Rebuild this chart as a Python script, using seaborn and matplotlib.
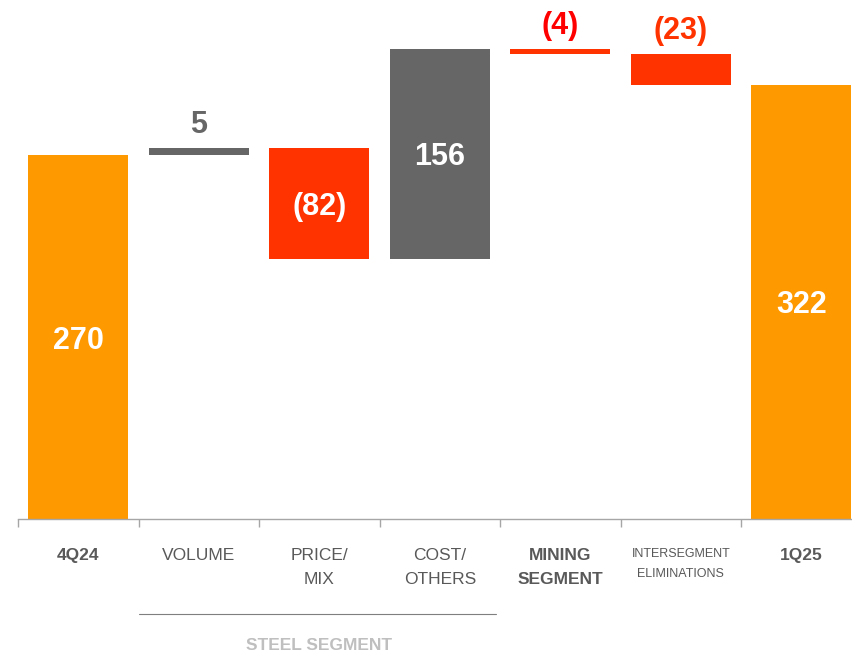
import matplotlib
matplotlib.use("Agg")
import matplotlib.pyplot as plt
import matplotlib.transforms as mtransforms
import seaborn as sns
import pandas as pd

# valores del puente 4Q24 -> 1Q25
categorias = ["4Q24", "VOLUME", "PRICE/\nMIX", "COST/\nOTHERS",
              "MINING\nSEGMENT", "INTERSEGMENT\nELIMINATIONS", "1Q25"]
valores = [270, 5, -82, 156, -4, -23, 322]
es_total = [True, False, False, False, False, False, True]
etiquetas = ["270", "5", "(82)", "156", "(4)", "(23)", "322"]
grupo_texto = "STEEL SEGMENT"

NARANJA = "#FF9900"
ROJO = "#FF3300"
GRIS = "#666666"

# bases y alturas de la cascada
bases, alturas, colores = [], [], []
acum = 0
for v, tot in zip(valores, es_total):
    if tot:
        bases.append(0)
        alturas.append(v)
        colores.append(NARANJA)
        acum = v
    else:
        bases.append(acum + min(0, v))
        alturas.append(abs(v))
        colores.append(GRIS if v > 0 else ROJO)
        acum += v

df = pd.DataFrame({"cat": categorias, "altura": alturas, "base": bases})

sns.set_style("white")
plt.rcParams["font.family"] = ["Liberation Sans", "DejaVu Sans"]

fig = plt.figure(figsize=(8.52, 6.56), dpi=100)
ax = fig.add_axes([18 / 852, 137 / 656, 834 / 852, 519 / 656])

sns.barplot(data=df, x="cat", y="altura", order=categorias, bottom=df["base"].values,
            width=0.83, color=NARANJA, linewidth=0, ax=ax)
for p, c in zip(ax.patches, colores):
    p.set_facecolor(c)

ax.set_xlabel("")
ax.set_ylabel("")
ax.set_yticks([])
for s in ["top", "right", "left"]:
    ax.spines[s].set_visible(False)
ax.spines["bottom"].set_color("#A6A6A6")
ax.spines["bottom"].set_linewidth(1)

# etiquetas de valor
for i, (lab, v) in enumerate(zip(etiquetas, valores)):
    top = bases[i] + alturas[i]
    if alturas[i] > 40:
        ax.text(i, bases[i] + alturas[i] / 2, lab, ha="center", va="center_baseline",
                color="white", fontsize=22, fontweight="bold")
    else:
        col = GRIS if v > 0 else ("#FF0000" if v == -4 else ROJO)
        ax.annotate(lab, (i, top), xytext=(0, 19), textcoords="offset points",
                    ha="center", va="center_baseline", color=col, fontsize=22,
                    fontweight="bold")

# ticks entre categorias
ax.set_xticks([i + 0.5 for i in range(-1, 7)], minor=True)
ax.tick_params(axis="x", which="minor", length=6, color="#A6A6A6", width=1, bottom=True)
ax.set_xticks(range(len(categorias)))
ax.set_xticklabels(categorias)
ax.tick_params(axis="x", which="major", length=0, pad=21)
negritas = {"4Q24", "MINING\nSEGMENT", "1Q25"}
for t in ax.get_xticklabels():
    txt = t.get_text()
    t.set_color("#595959")
    t.set_linespacing(1.75)
    t.set_fontsize(12.5)
    if txt in negritas:
        t.set_fontweight("bold")
    if txt.startswith("INTERSEGMENT"):
        t.set_fontsize(9)
        t.set_linespacing(1.9)

# limites despues de los ticks
ax.set_xlim(-0.5, 6.42)
ax.set_ylim(0, 385)

# agrupador STEEL SEGMENT
trans = mtransforms.blended_transform_factory(ax.transData, fig.transFigure)
ax.plot([0.5, 3.47], [1 - 614 / 656] * 2, color="#7F7F7F", lw=0.8,
        transform=trans, clip_on=False)
ax.text(2, 1 - 646 / 656, grupo_texto, transform=trans, ha="center", va="center",
        color="#BFBFBF", fontsize=12.5, fontweight="bold")
ax.set_xlim(-0.5, 6.42)

fig.savefig("out.png", dpi=100)
